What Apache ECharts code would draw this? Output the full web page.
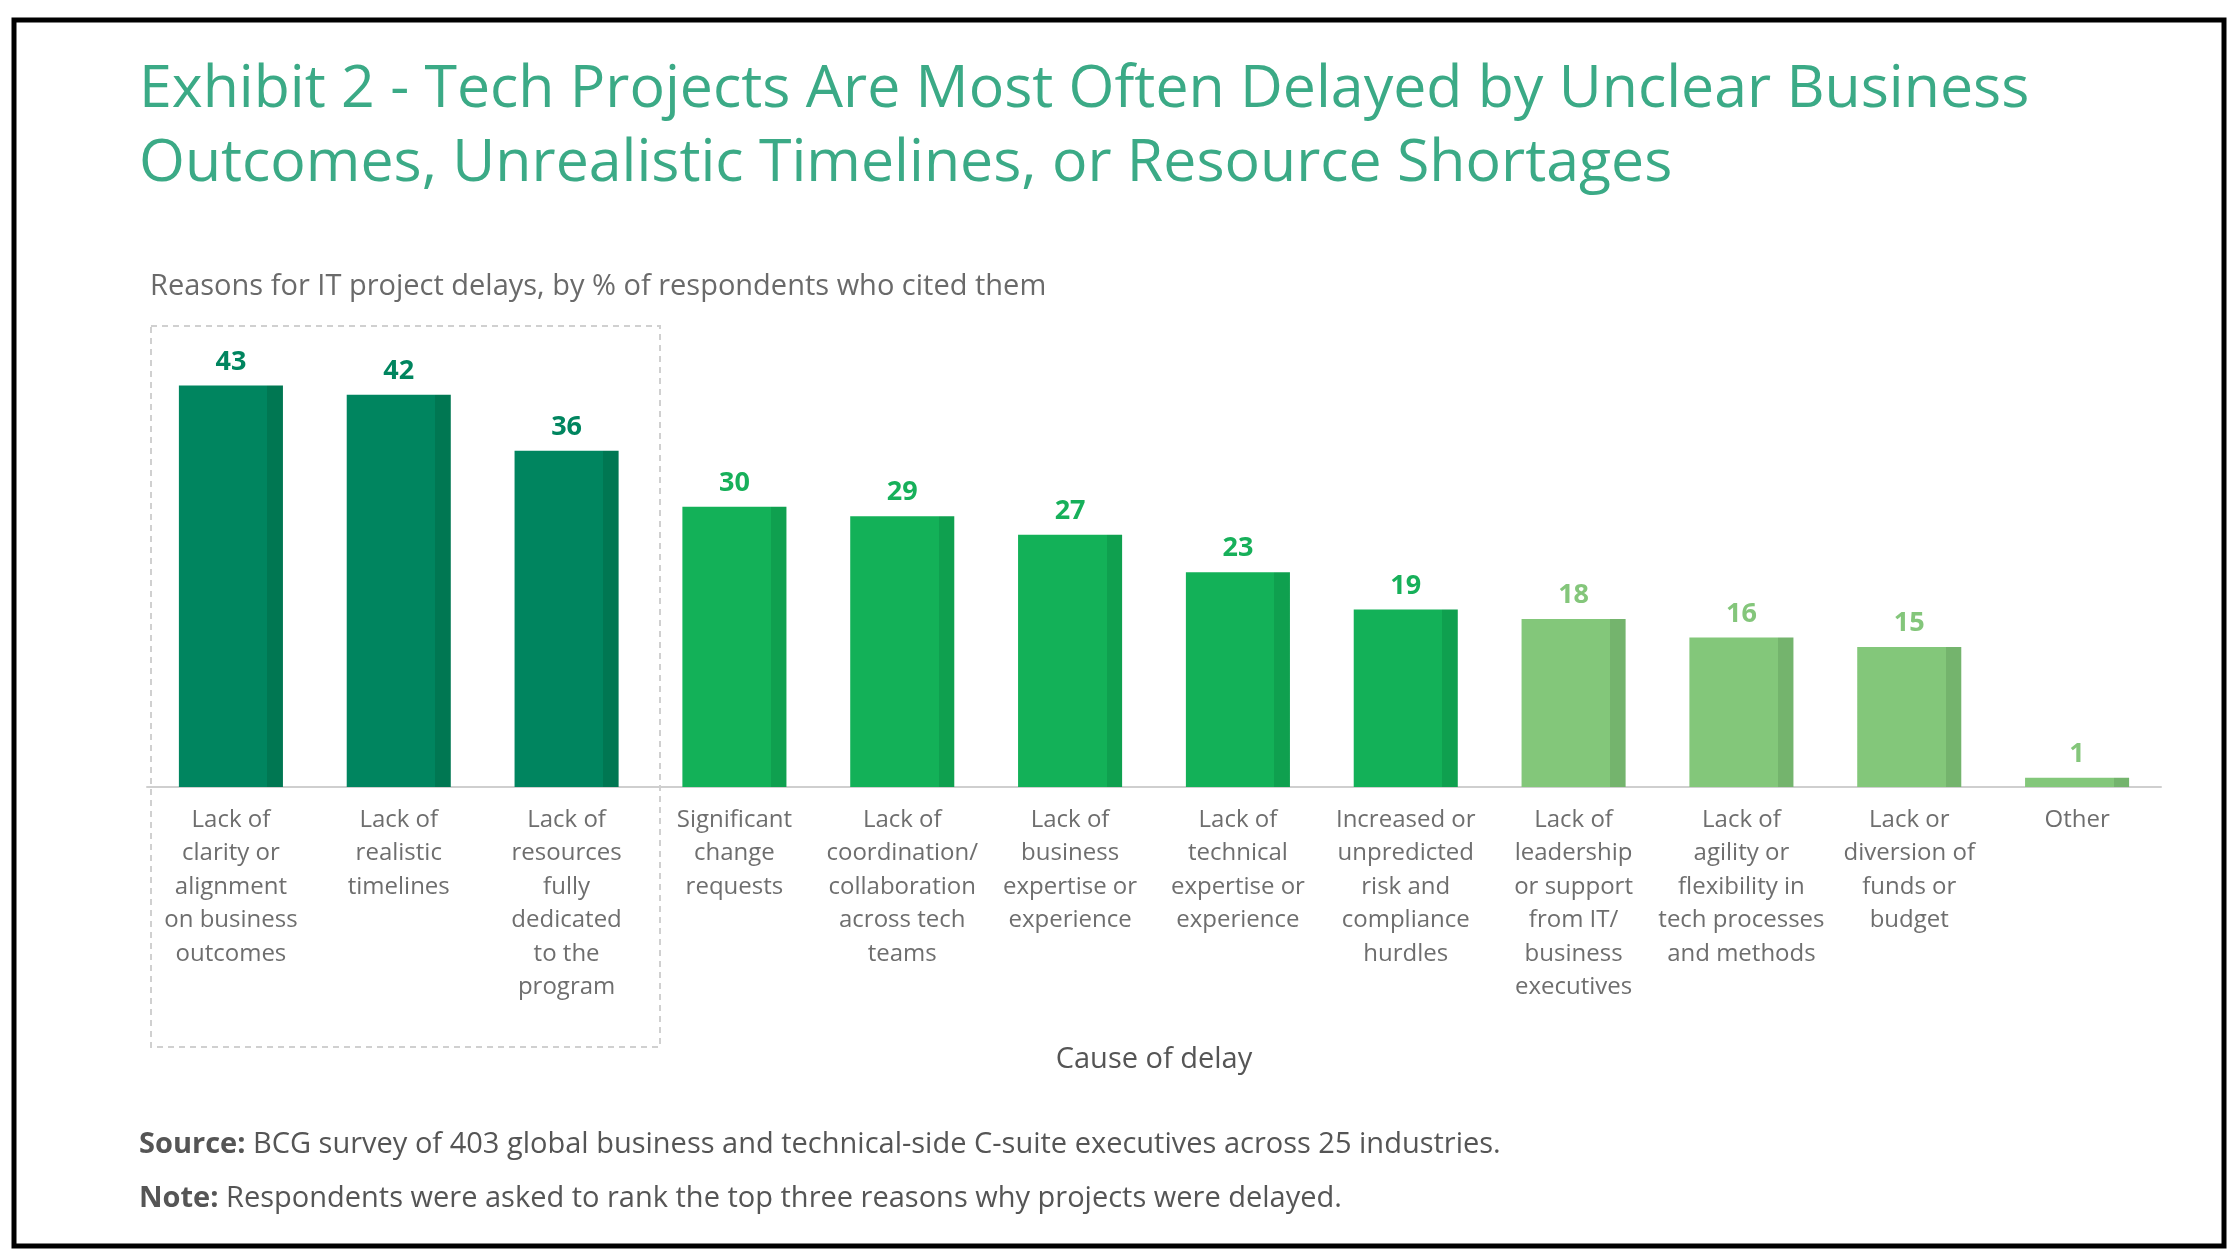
<!DOCTYPE html>
<html>
<head>
<meta charset="utf-8">
<script src="https://cdn.jsdelivr.net/npm/echarts@6/dist/echarts.min.js"></script>
<style>
html,body{margin:0;padding:0;background:#fff;}
#chart{width:2240px;height:1260px;}
</style>
</head>
<body>
<div id="chart"></div>
<script>
const titleLines = [
  "Exhibit 2 - Tech Projects Are Most Often Delayed by Unclear Business",
  "Outcomes, Unrealistic Timelines, or Resource Shortages"
];
const subtitle = "Reasons for IT project delays, by % of respondents who cited them";
const axisTitle = "Cause of delay";
const sourceLabel = "Source:";
const sourceText = " BCG survey of 403 global business and technical-side C-suite executives across 25 industries.";
const noteLabel = "Note:";
const noteText = " Respondents were asked to rank the top three reasons why projects were delayed.";

const categories = [
  "Lack of\nclarity or\nalignment\non business\noutcomes",
  "Lack of\nrealistic\ntimelines",
  "Lack of\nresources\nfully\ndedicated\nto the\nprogram",
  "Significant\nchange\nrequests",
  "Lack of\ncoordination/\ncollaboration\nacross tech\nteams",
  "Lack of\nbusiness\nexpertise or\nexperience",
  "Lack of\ntechnical\nexpertise or\nexperience",
  "Increased or\nunpredicted\nrisk and\ncompliance\nhurdles",
  "Lack of\nleadership\nor support\nfrom IT/\nbusiness\nexecutives",
  "Lack of\nagility or\nflexibility in\ntech processes\nand methods",
  "Lack or\ndiversion of\nfunds or\nbudget",
  "Other"
];
const values = [43, 42, 36, 30, 29, 27, 23, 19, 18, 16, 15, 1];
const tiers  = [0, 0, 0, 1, 1, 1, 1, 1, 2, 2, 2, 2];

const tierMain  = ["#00855f", "#13b158", "#83c77a"];
const tierShade = ["#007752", "#0fa04f", "#74b46d"];
const tierLabel = ["#00855f", "#17b05a", "#84c67b"];

const chart = echarts.init(document.getElementById('chart'));

const data = values.map((v, i) => ({
  value: v,
  itemStyle: {
    color: new echarts.graphic.LinearGradient(0, 0, 1, 0, [
      {offset: 0, color: tierMain[tiers[i]]},
      {offset: 0.85, color: tierMain[tiers[i]]},
      {offset: 0.85, color: tierShade[tiers[i]]},
      {offset: 1, color: tierShade[tiers[i]]}
    ])
  },
  label: {color: tierLabel[tiers[i]]}
}));

const font = "'Open Sans', Lato, sans-serif";

chart.setOption({
  animation: false,
  backgroundColor: '#fff',
  textStyle: {fontFamily: font},
  grid: {left: 147, width: 2014, top: 320, height: 467, containLabel: false},
  xAxis: {
    type: 'category',
    data: categories,
    axisLine: {show: true, lineStyle: {color: '#cfcfcf', width: 2}},
    axisTick: {show: false},
    axisLabel: {
      interval: 0, margin: 16, color: '#6e6e6e', fontSize: 24, lineHeight: 33.5,
      fontFamily: font, verticalAlign: 'top'
    },
    name: axisTitle,
    nameLocation: 'middle',
    nameGap: 273,
    nameTextStyle: {color: '#555', fontSize: 29, fontFamily: font, verticalAlign: 'middle'}
  },
  yAxis: {
    type: 'value', min: 0, max: 50,
    show: false, splitLine: {show: false}
  },
  series: [{
    type: 'bar',
    data: data,
    barWidth: '62%',
    label: {
      show: true, position: 'top', distance: 10,
      fontSize: 27, fontWeight: 'bold', fontFamily: font
    }
  }],
  graphic: [
    {type: 'rect', shape: {x: 14, y: 20, width: 2210, height: 1226},
     style: {fill: 'none', stroke: '#000', lineWidth: 5}},
    {type: 'text', left: 139, top: 53,
     style: {text: titleLines.join('\n'), fill: '#3baa86', font: "59px 'Open Sans', Lato, sans-serif", lineHeight: 74}},
    {type: 'text', left: 150, top: 272,
     style: {text: subtitle, fill: '#6a6a6a', font: "29px 'Open Sans', Lato, sans-serif"}},
    {type: 'rect', shape: {x: 151, y: 326, width: 509, height: 721},
     style: {fill: 'none', stroke: '#d0d0d0', lineWidth: 2, lineDash: [6, 5]}},
    {type: 'text', left: 139, top: 1130,
     style: {
       text: '{b|' + sourceLabel + '}{n|' + sourceText + '}',
       rich: {
         b: {fontWeight: 'bold', fill: '#555', fontSize: 29, fontFamily: font},
         n: {fill: '#555', fontSize: 29, fontFamily: font}
       }
     }},
    {type: 'text', left: 139, top: 1184,
     style: {
       text: '{b|' + noteLabel + '}{n|' + noteText + '}',
       rich: {
         b: {fontWeight: 'bold', fill: '#555', fontSize: 29, fontFamily: font},
         n: {fill: '#555', fontSize: 29, fontFamily: font}
       }
     }}
  ]
});
</script>
</body>
</html>
